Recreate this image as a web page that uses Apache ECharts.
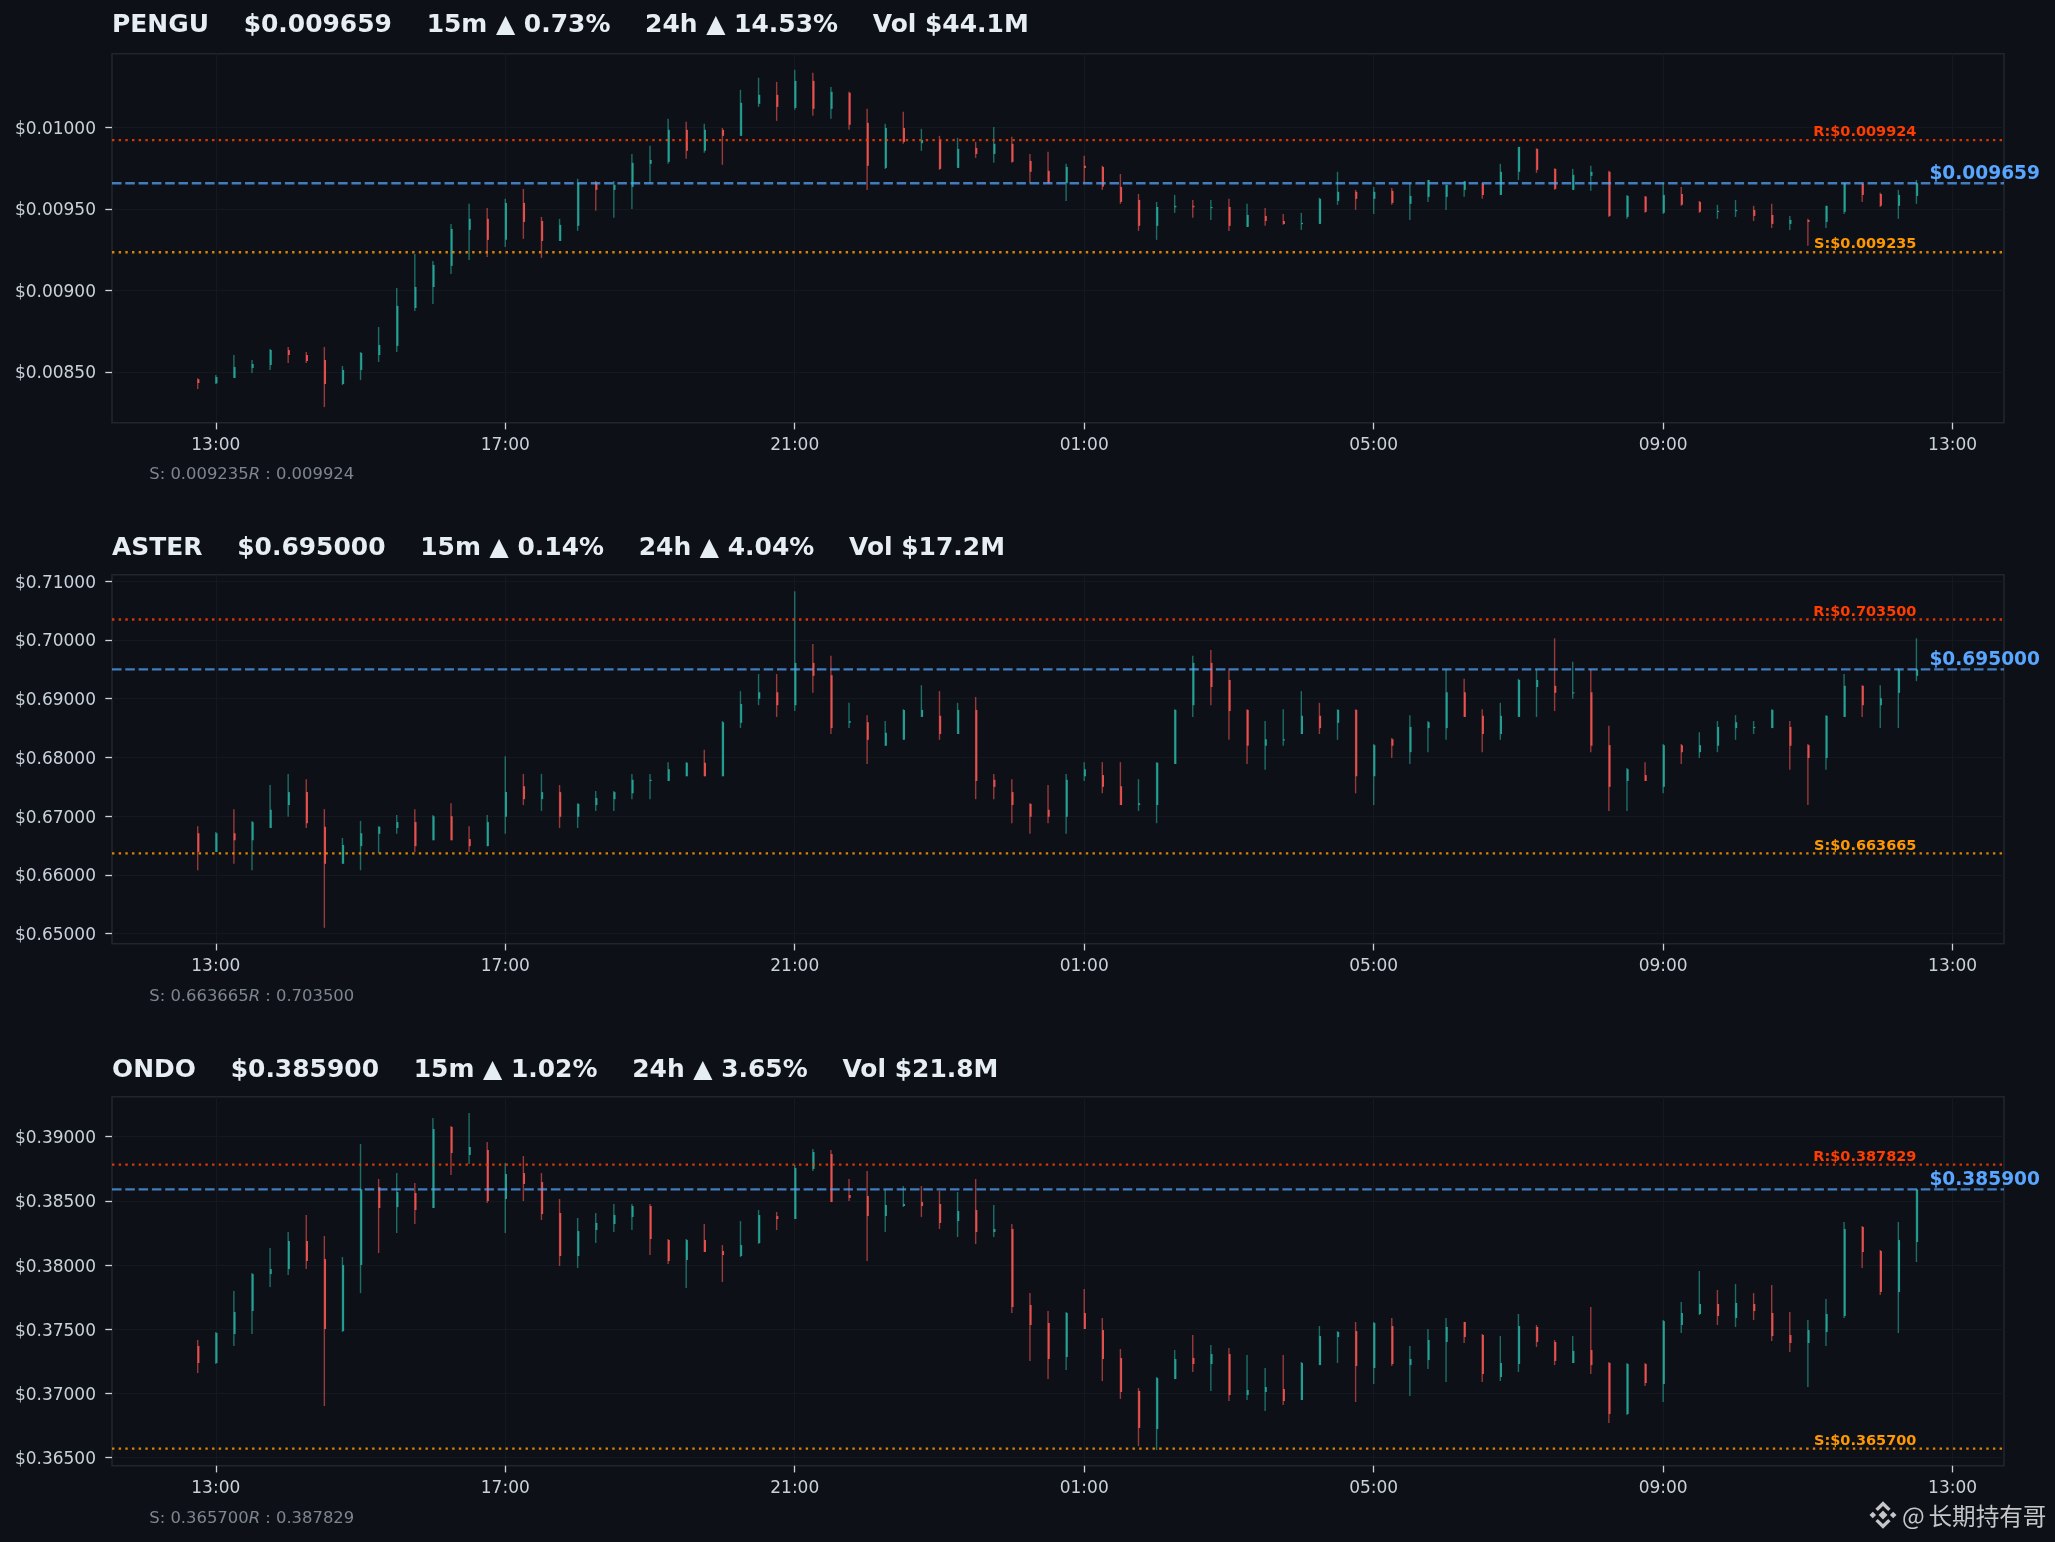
<!DOCTYPE html>
<html><head><meta charset="utf-8">
<style>html,body{margin:0;padding:0;background:#0d1117}#c{width:2055px;height:1542px}</style>
<script src="https://cdn.jsdelivr.net/npm/echarts@6/dist/echarts.min.js"></script>
</head><body><div id="c"></div>
<script>
// Time: minutes relative to 13:00 on the first day
const firstCandleMinute = -15, candleStep = 15;
const xTickMinutes = [0,240,480,720,960,1200,1440];
const xTickLabels = ['13:00','17:00','21:00','01:00','05:00','09:00','13:00'];

// PENGU, in millionths of a dollar
const penguHigh=[8460,8480,8603,8572,8640,8652,8622,8652,8536,8622,8775,9015,9224,9181,9409,9532,9507,9563,9624,9452,9440,9686,9673,9673,9839,9889,10055,10036,10024,9999,10233,10307,10282,10356,10338,10251,10221,10116,10024,10098,9993,9950,9938,9913,10005,9944,9839,9852,9778,9827,9766,9716,9593,9544,9587,9556,9556,9563,9532,9507,9470,9477,9569,9729,9618,9636,9630,9659,9679,9649,9671,9661,9778,9882,9874,9751,9747,9766,9735,9587,9581,9661,9636,9550,9526,9556,9520,9532,9458,9440,9520,9659,9659,9600,9618,9679];
const penguBodyTop=[8454,8468,8529,8548,8634,8634,8603,8572,8511,8616,8665,8905,9021,9157,9378,9440,9440,9538,9538,9427,9403,9659,9659,9649,9784,9802,9987,9987,9987,9987,10153,10202,10202,10288,10288,10221,10215,10030,9999,9999,9925,9925,9870,9876,9901,9901,9796,9735,9759,9766,9759,9636,9556,9513,9520,9520,9513,9513,9464,9458,9427,9415,9563,9606,9606,9606,9612,9581,9679,9649,9671,9655,9729,9882,9870,9747,9710,9729,9729,9581,9577,9587,9593,9544,9489,9495,9495,9464,9433,9433,9520,9659,9655,9593,9587,9659];
const penguBodyBottom=[8431,8429,8462,8523,8542,8603,8566,8425,8425,8511,8603,8659,8892,9021,9151,9372,9311,9311,9421,9304,9304,9397,9618,9618,9636,9778,9790,9858,9858,9950,9950,10147,10128,10122,10116,10116,10018,9766,9753,9913,9905,9747,9753,9839,9839,9790,9729,9659,9659,9753,9638,9544,9397,9397,9511,9511,9509,9397,9390,9427,9409,9411,9409,9550,9563,9563,9538,9532,9575,9575,9618,9587,9587,9729,9741,9624,9618,9704,9458,9452,9483,9477,9526,9483,9485,9487,9458,9409,9409,9421,9421,9483,9587,9520,9520,9581];
const penguLow=[8394,8425,8462,8493,8511,8554,8554,8283,8419,8449,8560,8622,8874,8917,9101,9187,9206,9267,9317,9200,9304,9366,9489,9446,9501,9659,9778,9809,9846,9772,9950,10128,10042,10110,10073,10055,9987,9618,9747,9901,9858,9741,9753,9815,9784,9784,9659,9659,9550,9659,9618,9532,9366,9311,9477,9446,9433,9366,9390,9397,9403,9372,9409,9526,9495,9470,9526,9433,9544,9495,9575,9563,9587,9679,9723,9618,9618,9612,9452,9440,9477,9470,9520,9477,9440,9452,9427,9384,9372,9274,9384,9470,9544,9513,9440,9532];
const penguDirection='RGGGGRRRGG'+'GGGGGGRGRR'+'GGRGGGGRGR'+'GGRGRGRRGR'+'GRGRGRRRGR'+'RRRGGRGRGR'+'RGGGRGRGGG'+'GRGGRRGGRG'+'RGRRGGRRGR'+'GGRRGG';

// ASTER, in ten-thousandths of a dollar
const asterHigh=[6683,6673,6712,6692,6753,6772,6763,6712,6663,6692,6683,6702,6712,6702,6722,6683,6702,6802,6772,6772,6753,6722,6743,6743,6772,6772,6792,6792,6813,6862,6913,6942,6942,7083,6993,6973,6893,6872,6862,6882,6923,6913,6893,6903,6772,6763,6722,6753,6772,6792,6792,6792,6763,6792,6882,6973,6983,6952,6882,6862,6882,6913,6893,6882,6882,6823,6833,6872,6862,6950,6934,6882,6893,6934,6950,7003,6963,6950,6854,6782,6792,6823,6823,6843,6862,6872,6862,6882,6862,6823,6872,6942,6923,6923,6952,7003];
const asterBodyTop=[6671,6671,6671,6690,6711,6741,6741,6682,6651,6671,6682,6690,6690,6700,6700,6661,6690,6741,6751,6741,6741,6721,6731,6741,6762,6762,6780,6791,6791,6860,6891,6911,6911,6961,6961,6940,6862,6860,6842,6881,6881,6871,6881,6881,6762,6741,6721,6711,6762,6780,6770,6751,6722,6791,6881,6961,6961,6932,6881,6831,6831,6871,6871,6881,6881,6821,6831,6852,6860,6911,6911,6871,6871,6932,6932,6922,6911,6911,6821,6780,6770,6821,6821,6821,6852,6860,6852,6881,6852,6821,6871,6922,6922,6901,6950,6950];
const asterBodyBottom=[6639,6639,6659,6659,6680,6719,6688,6619,6619,6649,6670,6680,6649,6659,6659,6649,6649,6699,6729,6729,6699,6699,6719,6729,6739,6760,6760,6768,6768,6768,6859,6900,6889,6889,6939,6850,6859,6830,6820,6830,6869,6840,6840,6760,6750,6719,6699,6699,6699,6768,6750,6719,6719,6719,6789,6889,6920,6879,6820,6820,6830,6840,6850,6859,6768,6768,6820,6809,6850,6850,6869,6840,6840,6869,6920,6910,6910,6820,6750,6760,6760,6750,6809,6809,6820,6850,6851,6850,6820,6799,6799,6869,6889,6889,6910,6939];
const asterLow=[6608,6639,6619,6608,6680,6699,6680,6510,6619,6608,6637,6670,6639,6659,6659,6639,6649,6670,6719,6709,6680,6680,6709,6709,6729,6729,6760,6768,6768,6768,6850,6889,6869,6879,6910,6840,6850,6789,6820,6830,6869,6830,6840,6729,6729,6688,6670,6688,6670,6760,6739,6719,6709,6688,6789,6869,6889,6830,6789,6779,6820,6840,6840,6830,6739,6719,6799,6789,6809,6830,6869,6809,6830,6869,6869,6879,6900,6809,6709,6709,6760,6739,6789,6799,6809,6830,6840,6850,6779,6719,6779,6869,6869,6850,6850,6930];
const asterDirection='RGRGGGRRGG'+'GGRGRRGGRG'+'RGGGGGGGRG'+'GGRGRRGRGG'+'GRGRRRRRGG'+'RRGGGGRRRG'+'GGRGRGRGGG'+'RRGGGRGRRG'+'RGRGGGGGRR'+'GGRGGG';

// ONDO, in hundred-thousandths of a dollar
const ondoHigh=[37416,37479,37798,37938,38133,38258,38390,38227,38063,38943,38671,38717,38639,39146,39084,39185,38959,38795,38850,38717,38515,38367,38406,38476,38476,38476,38203,38203,38320,38156,38343,38429,38414,38780,38904,38897,38671,38733,38590,38616,38616,38577,38569,38671,38468,38320,37782,37642,37634,37814,37588,37346,37042,37128,37338,37455,37377,37354,37299,37198,37299,37245,37525,37486,37557,37557,37588,37370,37502,37588,37557,37463,37447,37619,37533,37416,37447,37673,37245,37237,37237,37572,37712,37954,37806,37853,37782,37845,37634,37572,37736,38336,38304,38117,38336,38590];
const ondoBodyTop=[37370,37471,37634,37930,37969,38188,38188,38047,38001,38590,38608,38569,38562,39060,39076,38920,38897,38710,38717,38647,38406,38265,38328,38390,38460,38460,38195,38195,38195,38110,38156,38390,38382,38756,38881,38865,38546,38538,38468,38476,38491,38476,38421,38429,38281,38281,37689,37549,37627,37627,37494,37276,37019,37120,37268,37276,37307,37307,37027,37050,37034,37237,37447,37479,37486,37549,37525,37268,37416,37518,37557,37455,37237,37525,37518,37401,37331,37338,37237,37229,37229,37564,37627,37697,37697,37705,37697,37627,37455,37494,37619,38281,38297,38110,38195,38590];
const ondoBodyBottom=[37237,37237,37463,37642,37930,37969,38032,37502,37486,38001,38445,38452,38429,38445,38873,38858,38499,38515,38632,38398,38071,38071,38273,38320,38375,38203,38032,38040,38102,38078,38071,38172,38359,38359,38749,38491,38523,38382,38382,38460,38460,38328,38343,38258,38258,37673,37533,37268,37284,37502,37268,37011,36731,36723,37112,37229,37229,36988,36988,37011,36941,36949,37221,37440,37214,37198,37229,37221,37260,37401,37440,37151,37128,37229,37401,37253,37237,37221,36840,36840,37081,37073,37533,37619,37603,37588,37642,37447,37393,37393,37479,37603,38102,37790,37790,38180];
const ondoLow=[37159,37229,37370,37463,37829,37923,37969,36902,37479,37782,38094,38250,38320,38445,38702,38787,38484,38250,38499,38351,37993,37977,38172,38258,38273,38078,38008,37821,38102,37868,38063,38164,38273,38359,38733,38491,38499,38032,38258,38452,38375,38281,38219,38164,38219,37627,37253,37112,37183,37502,37097,36957,36590,36559,37112,37167,37019,36941,36949,36863,36910,36949,37221,37237,36933,37073,37214,36980,37190,37089,37393,37089,37097,37167,37362,37221,37237,37151,36770,36832,37058,36933,37471,37611,37533,37518,37572,37408,37323,37050,37370,37588,37977,37767,37471,38024];
const ondoDirection='RGGGGGRRGG'+'RGRGRGRGRR'+'RGGGGRRGRR'+'GGRGGRRRGG'+'RRGRGRRRGR'+'RRRGGRGRGG'+'RGGGRGRGGG'+'RRGGRRGRRG'+'RGGGRGRRRG'+'GGRRGG';

// Levels and y ticks
const penguLevels={support:0.009235,resistance:0.009924,last:0.009659};
const asterLevels={support:0.663665,resistance:0.703500,last:0.695000};
const ondoLevels={support:0.365700,resistance:0.387829,last:0.385900};
const penguTicks=[0.0085,0.009,0.0095,0.01];
const asterTicks=[0.65,0.66,0.67,0.68,0.69,0.70,0.71];
const ondoTicks=[0.365,0.37,0.375,0.38,0.385,0.39];
const penguTitle='PENGU    $0.009659    15m ▲ 0.73%    24h ▲ 14.53%    Vol $44.1M';
const asterTitle='ASTER    $0.695000    15m ▲ 0.14%    24h ▲ 4.04%    Vol $17.2M';
const ondoTitle='ONDO    $0.385900    15m ▲ 1.02%    24h ▲ 3.65%    Vol $21.8M';

const FONT='"DejaVu Sans"';
const BG='#0d1117', UP='#26a69a', DOWN='#ef5350';
const xRange=[-86.06,1482.6];

const panels=[
 {title:penguTitle,levels:penguLevels,ticks:penguTicks,high:penguHigh,top:penguBodyTop,bottom:penguBodyBottom,low:penguLow,dir:penguDirection,unit:1e-6,min:0.008187,max:0.010455,gridTop:53.7,titleY:26,subY:475},
 {title:asterTitle,levels:asterLevels,ticks:asterTicks,high:asterHigh,top:asterBodyTop,bottom:asterBodyBottom,low:asterLow,dir:asterDirection,unit:1e-4,min:0.64829,max:0.71112,gridTop:574.7,titleY:548.5,subY:996.5},
 {title:ondoTitle,levels:ondoLevels,ticks:ondoTicks,high:ondoHigh,top:ondoBodyTop,bottom:ondoBodyBottom,low:ondoLow,dir:ondoDirection,unit:1e-5,min:0.36437,max:0.39312,gridTop:1096.7,titleY:1070.5,subY:1518.5}
];

const fmtClock=m=>{const i=xTickMinutes.indexOf(m);return i>=0?xTickLabels[i]:'';};

const grid=[],xAxis=[],yAxis=[],series=[],title=[];
panels.forEach((p,k)=>{
  grid.push({left:112,width:1892,top:p.gridTop,height:369,show:true,borderColor:'#21262d',borderWidth:1.6,backgroundColor:BG,containLabel:false});
  xAxis.push({type:'value',gridIndex:k,min:xRange[0],max:xRange[1],
    axisLine:{show:false,onZero:false},
    axisTick:{show:true,length:6.7,customValues:xTickMinutes,lineStyle:{color:'#c9d1d9',width:1.3}},
    axisLabel:{show:true,customValues:xTickMinutes,formatter:fmtClock,color:'#c9d1d9',fontFamily:FONT,fontSize:17,margin:14.5},
    splitLine:{show:true,lineStyle:{color:'#141920',width:1}}});
  yAxis.push({type:'value',gridIndex:k,min:p.min,max:p.max,scale:true,
    axisLine:{show:false,onZero:false},
    axisTick:{show:true,length:6.7,customValues:p.ticks,lineStyle:{color:'#c9d1d9',width:1.3}},
    axisLabel:{show:true,customValues:p.ticks,formatter:v=>'$'+v.toFixed(5),color:'#c9d1d9',fontFamily:FONT,fontSize:17,margin:16,verticalAlign:'top',padding:[-6.5,0,0,0]},
    splitLine:{show:true,lineStyle:{color:'#141920',width:1}}});
  const data=p.high.map((h,i)=>{
    const up=p.dir[i]==='G';
    const t=p.top[i]*p.unit,b=p.bottom[i]*p.unit;
    return [firstCandleMinute+i*candleStep, up?b:t, up?t:b, p.low[i]*p.unit, h*p.unit, up?1:0];
  });
  series.push({type:'custom',name:p.title.split(' ')[0],xAxisIndex:k,yAxisIndex:k,data,z:2,
    encode:{x:0,y:[1,2,3,4]},animation:false,silent:true,
    renderItem:(params,api)=>{
      const x=api.value(0),o=api.value(1),c=api.value(2),lo=api.value(3),hi=api.value(4),col=api.value(5)?UP:DOWN;
      const pHi=api.coord([x,hi]),pLo=api.coord([x,lo]);
      const pT=api.coord([x,Math.max(o,c)]),pB=api.coord([x,Math.min(o,c)]);
      return {type:'group',children:[
        {type:'rect',shape:{x:pHi[0]-0.7,y:pHi[1],width:1.4,height:Math.max(pLo[1]-pHi[1],1)},style:{fill:col,opacity:0.62}},
        {type:'rect',shape:{x:pT[0]-0.2,y:pT[1],width:1.9,height:Math.max(pB[1]-pT[1],1.2)},style:{fill:col,opacity:0.95}}
      ]};
    }});
  const L=p.levels;
  const levelLine=(name,v,color,opacity,dash)=>({type:'line',name,xAxisIndex:k,yAxisIndex:k,z:3,silent:true,animation:false,showSymbol:false,symbol:'none',
    data:[[xRange[0],v],[xRange[1],v]],lineStyle:{color,opacity,width:2.4,type:dash,cap:'butt'}});
  series.push(levelLine('resistance',L.resistance,'#ff3d00',0.85,[2.4,4.27]));
  series.push(levelLine('support',L.support,'#ff9800',0.85,[2.4,4.27]));
  series.push(levelLine('last',L.last,'#58a6ff',0.72,[9.5,3.8]));
  const lastMinute=firstCandleMinute+(p.high.length-1)*candleStep;
  const labelRows=[
    [lastMinute,L.resistance,'R:$'+L.resistance.toFixed(6),'#ff3d00','right',0,'bottom','bold 14.5px '+FONT,0],
    [lastMinute,L.support,'S:$'+L.support.toFixed(6),'#ff9800','right',0,'bottom','bold 14.5px '+FONT,0],
    [lastMinute,L.last,'$'+L.last.toFixed(6),'#58a6ff','left',-9.5,'middle','bold 18.6px '+FONT,13]
  ];
  series.push({type:'custom',xAxisIndex:k,yAxisIndex:k,data:labelRows.map(r=>[r[0],r[1]]),z:4,clip:false,silent:true,animation:false,
    encode:{x:0,y:1},
    renderItem:(params,api)=>{
      const r=labelRows[params.dataIndex];
      const pt=api.coord([api.value(0),api.value(1)]);
      return {type:'text',x:pt[0]+r[8],y:pt[1]+r[5],style:{text:r[2],fill:r[3],font:r[7],textAlign:r[4],textVerticalAlign:r[6]}};
    }});
  title.push({text:p.title,left:112,top:p.titleY-14,padding:0,textStyle:{color:'#e6edf3',fontFamily:FONT,fontWeight:'bold',fontSize:24.95,lineHeight:28}});
  title.push({text:'{a|S: '+L.support.toFixed(6)+'}{i|R}{a| : '+L.resistance.toFixed(6)+'}',left:149.3,top:p.subY-10,padding:0,
    textStyle:{fontWeight:'normal',rich:{a:{color:'#7d8590',fontFamily:FONT,fontWeight:'normal',fontSize:16.4,lineHeight:20},i:{color:'#7d8590',fontFamily:FONT,fontWeight:'normal',fontStyle:'italic',fontSize:16.4,lineHeight:20}}}});
});

const wm='#c4c6c8';
const cx=1883,cy=1515;
const pts=a=>a.map(q=>[cx+q[0],cy+q[1]]);
const diamond=(dx,dy,r)=>({type:'polygon',shape:{points:pts([[dx,dy-r],[dx+r,dy],[dx,dy+r],[dx-r,dy]])},style:{fill:wm}});
const graphic=[
  diamond(0,0,4.4),diamond(-10.2,0,3.3),diamond(10.2,0,3.3),
  {type:'polygon',shape:{points:pts([[0,-13.8],[7.6,-6.2],[5.2,-3.9],[0,-9],[-5.2,-3.9],[-7.6,-6.2]])},style:{fill:wm}},
  {type:'polygon',shape:{points:pts([[0,13.8],[7.6,6.2],[5.2,3.9],[0,9],[-5.2,3.9],[-7.6,6.2]])},style:{fill:wm}},
  {type:'text',x:1902,y:1515.7,style:{text:'@',fill:wm,font:'24px "Noto Sans CJK SC"',textVerticalAlign:'middle'}},
  {type:'text',x:1928.5,y:1515.7,style:{text:'长期持有哥',fill:wm,font:'23.6px "Noto Sans CJK SC"',textVerticalAlign:'middle'}}
];

const chart=echarts.init(document.getElementById('c'),null,{renderer:'canvas',width:2055,height:1542});
chart.setOption({backgroundColor:BG,animation:false,title,grid,xAxis,yAxis,series,graphic,tooltip:{show:false}});
</script></body></html>
